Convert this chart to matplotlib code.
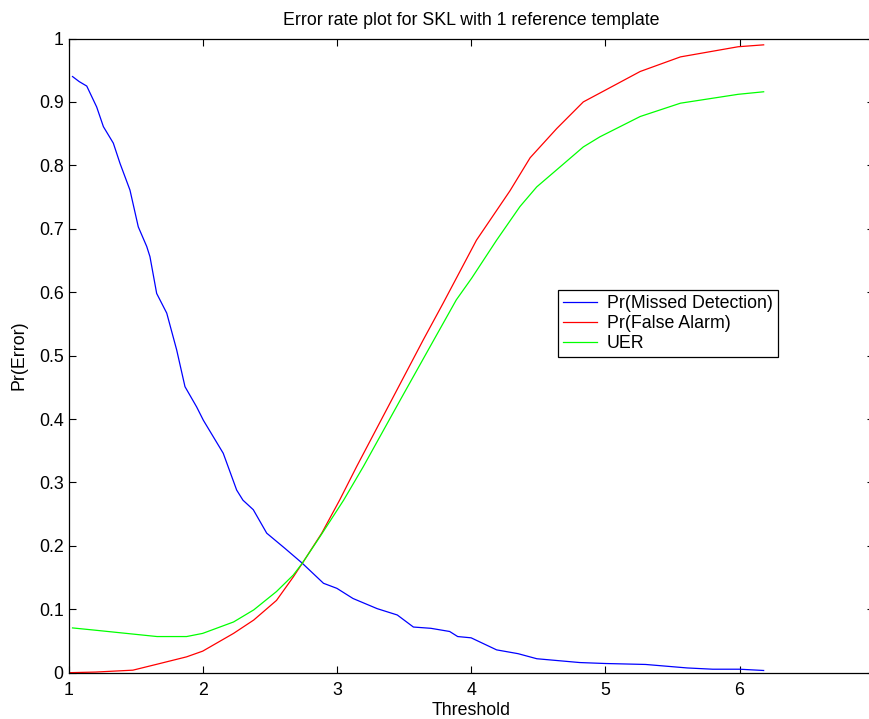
import matplotlib
matplotlib.use("Agg")
import matplotlib.pyplot as plt

plt.rcParams['font.family'] = ['Liberation Sans', 'DejaVu Sans']

title = "Error rate plot for SKL with 1 reference template"
xlabel = "Threshold"
ylabel = "Pr(Error)"
labels = ["Pr(Missed Detection)", "Pr(False Alarm)", "UER"]

md_x = [1.03, 1.08, 1.136, 1.21, 1.26, 1.334, 1.384, 1.458, 1.52, 1.583, 1.607, 1.657,
        1.732, 1.806, 1.868, 1.955, 2.005, 2.153, 2.253, 2.30, 2.377, 2.477, 2.613, 2.74,
        2.90, 3.0, 3.12, 3.30, 3.45, 3.57, 3.70, 3.84, 3.90, 4.0, 4.19, 4.35, 4.49, 4.81,
        5.0, 5.3, 5.61, 5.8, 6.0, 6.18]
md_y = [0.940, 0.932, 0.925, 0.892, 0.861, 0.835, 0.803, 0.761, 0.703, 0.672, 0.656, 0.598,
        0.567, 0.509, 0.451, 0.419, 0.398, 0.346, 0.288, 0.272, 0.257, 0.220, 0.196, 0.173,
        0.141, 0.133, 0.117, 0.101, 0.091, 0.072, 0.070, 0.065, 0.057, 0.055, 0.036, 0.030,
        0.022, 0.016, 0.0145, 0.013, 0.0075, 0.0055, 0.0055, 0.0035]

fa_x = [1.0, 1.2, 1.48, 1.66, 1.88, 2.0, 2.23, 2.38, 2.55, 2.675, 2.75, 2.887, 3.02, 3.147,
        3.408, 3.644, 3.79, 4.04, 4.29, 4.44, 4.638, 4.836, 4.96, 5.26, 5.56, 5.99, 6.18]
fa_y = [0.0, 0.001, 0.004, 0.0134, 0.025, 0.034, 0.062, 0.083, 0.114, 0.151, 0.175, 0.220,
        0.272, 0.325, 0.430, 0.525, 0.582, 0.682, 0.760, 0.812, 0.858, 0.900, 0.914, 0.948,
        0.971, 0.987, 0.990]

uer_x = [1.03, 1.2, 1.43, 1.66, 1.88, 2.0, 2.23, 2.38, 2.55, 2.675, 2.74, 2.874, 3.05, 3.197,
         3.48, 3.694, 3.89, 4.004, 4.19, 4.364, 4.489, 4.638, 4.836, 4.96, 5.26, 5.56, 5.99, 6.18]
uer_y = [0.0706, 0.067, 0.062, 0.057, 0.057, 0.062, 0.080, 0.099, 0.128, 0.154, 0.172, 0.2145,
         0.272, 0.325, 0.433, 0.514, 0.588, 0.622, 0.682, 0.735, 0.766, 0.793, 0.829, 0.845,
         0.877, 0.898, 0.912, 0.916]

xticks = [1, 2, 3, 4, 5, 6, 7]
yticks = [0, 0.1, 0.2, 0.3, 0.4, 0.5, 0.6, 0.7, 0.8, 0.9, 1]
yticklabels = ["0", "0.1", "0.2", "0.3", "0.4", "0.5", "0.6", "0.7", "0.8", "0.9", "1"]

W, H = 869, 719
fig = plt.figure(figsize=(W / 100, H / 100), dpi=100)
left, right, top, bottom = 68.5, 873.7, 38.5, 672.7
ax = fig.add_axes([left / W, 1 - bottom / H, (right - left) / W, (bottom - top) / H])

ax.plot(md_x, md_y, color=(0, 0, 1), lw=0.9, label=labels[0])
ax.plot(fa_x, fa_y, color=(1, 0, 0), lw=0.9, label=labels[1])
ax.plot(uer_x, uer_y, color=(0, 1, 0), lw=0.9, label=labels[2])

ax.set_xlim(1, 7)
ax.set_ylim(0, 1)
ax.set_xticks(xticks)
ax.set_xticklabels([str(t) for t in xticks])
ax.set_yticks(yticks)
ax.set_yticklabels(yticklabels)
fs = 12.8
ax.tick_params(direction='in', length=5, width=0.8, top=True, right=True,
               labelsize=fs, colors='black')
ax.tick_params(axis='x', pad=7)
ax.tick_params(axis='y', pad=3.5)
for s in ax.spines.values():
    s.set_linewidth(0.9)
    s.set_color('black')

ax.set_title(title, fontsize=fs, pad=10)
ax.set_xlabel(xlabel, fontsize=fs, labelpad=2)
ax.set_ylabel(ylabel, fontsize=fs, labelpad=8)

leg = ax.legend(loc='upper left', bbox_to_anchor=(558.3 / W, 1 - 290 / H),
                bbox_transform=fig.transFigure, borderaxespad=0, fontsize=fs,
                fancybox=False, framealpha=1, edgecolor='black', handlelength=1.9,
                handletextpad=0.55, labelspacing=0.18, borderpad=0.28)
leg.get_frame().set_linewidth(0.9)

fig.savefig("out.png", dpi=100)
